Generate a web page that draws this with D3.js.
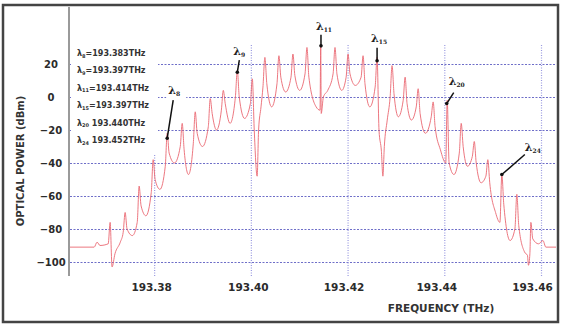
<!DOCTYPE html>
<html>
<head>
<meta charset="utf-8">
<script src="https://cdn.jsdelivr.net/npm/d3@7"></script>
<style>
  html, body { margin: 0; padding: 0; background: #fff; }
  svg { display: block; }
</style>
</head>
<body>
<div id="chart"></div>
<script>
//-- DATA --\\
var xTicks = [193.38, 193.40, 193.42, 193.44, 193.46];
var yTicks = [20, 0, -20, -40, -60, -80, -100];

// optical spectrum trace, [frequency THz, power dBm]
var trace = [
  [193.3626, -91], [193.3676, -91], [193.3682, -88], [193.3688, -90], [193.3705, -89],
  [193.3709, -76], [193.3713, -103], [193.3719, -95], [193.3730, -88], [193.3736, -82],
  [193.3740, -70], [193.3744, -80], [193.3755, -84], [193.3765, -76],
  [193.3769, -54], [193.3773, -66], [193.3783, -72], [193.3794, -58],
  [193.3798, -38], [193.3802, -50], [193.3812, -56], [193.3823, -42],
  [193.3827, -22], [193.3831, -34], [193.3842, -40], [193.3854, -30],
  [193.3858, -16], [193.3862, -32], [193.3871, -47], [193.3881, -28],
  [193.3885, -9], [193.3889, -22], [193.3900, -30], [193.3912, -18],
  [193.3916, -1], [193.3920, -10], [193.3929, -20], [193.3939, -8],
  [193.3943, 4], [193.3947, -4], [193.3957, -16], [193.3968, 0],
  [193.3972, 16], [193.3976, 0], [193.3987, -13], [193.3999, -4],
  [193.4003, 11], [193.4007, -20], [193.4013, -48], [193.4016, -20], [193.4021, -6], [193.4025, 6],
  [193.4029, 24], [193.4033, 8], [193.4043, -6], [193.4054, 8],
  [193.4058, 25], [193.4062, 12], [193.4072, 3], [193.4083, 12],
  [193.4087, 26], [193.4091, 13], [193.4101, 4], [193.4112, 14],
  [193.4116, 30], [193.4120, 12], [193.4135, -6], [193.4143, -8],
  [193.41445, 31.5], [193.41455, -10], [193.4150, 0], [193.4159, 4], [193.4170, 14],
  [193.4174, 30], [193.4178, 14], [193.4188, 4], [193.4197, 12],
  [193.4201, 26], [193.4205, 14], [193.4216, 7], [193.4228, 12],
  [193.4232, 25], [193.4236, 8], [193.4246, -6], [193.4257, 6],
  [193.4261, 24], [193.4265, -20], [193.4270, -33], [193.4273, -48], [193.4276, -30], [193.4282, -14], [193.4288, 0],
  [193.4292, 19], [193.4296, 2], [193.4305, -12], [193.4315, -2],
  [193.4319, 12], [193.4323, -4], [193.4332, -14], [193.4342, -6],
  [193.4346, 5], [193.4350, -10], [193.4361, -22], [193.4373, -12],
  [193.4377, -3], [193.4381, -18], [193.4392, -32], [193.4403, -40],
  [193.4406, -2], [193.4410, -40], [193.4420, -47], [193.4431, -34],
  [193.4435, -16], [193.4439, -30], [193.4448, -42], [193.4458, -36],
  [193.4462, -27], [193.4466, -40], [193.4476, -52], [193.4486, -48],
  [193.4490, -38], [193.4494, -52], [193.4506, -70], [193.4515, -76],
  [193.4519, -47], [193.4523, -65], [193.4536, -87], [193.4546, -80],
  [193.4550, -59], [193.4554, -78], [193.4566, -94], [193.4572, -96], [193.4574, -102], [193.4577, -95],
  [193.4579, -76], [193.4583, -86], [193.4595, -89], [193.4604, -87], [193.4610, -91], [193.4631, -91]
];

// legend lines (channel, text after it)
var legendSubs = ["8", "9", "11", "15", "20", "24"];
var legendVals = ["=193.383THz", "=193.397THz", "=193.414THz", "=193.397THz", " 193.440THz", " 193.452THz"];

// marked channels: frequency, level at the dot
var markSubs = ["8", "9", "11", "15", "20", "24"];
var markFreq = [193.3827, 193.3972, 193.4145, 193.4261, 193.4405, 193.4519];
var markDb = [-25, 15, 31, 22, -4, -47];

//-- LAYOUT --\\
var W = 561, H = 326;
var plotL = 70, plotR = 556, plotT = 45, plotB = 276;
var gridCol = "#6e6ec8";
var vgridCol = "#9a9ae0";
var traceCol = "#ea6872";
var textCol = "#2b2b2b";

// the printed tick labels sit a little left of their grid lines
var xLabelShift = [-3, -3, -4, -8, -9];

// label offsets (px) for each mark: line end and label centre relative to dot
var markLine = [[6, -38], [2, -12], [0, -11], [0, -13], [7, -11], [23, -20]];
var markLabel = [[7, -44], [2, -17], [3, -16], [2, -19], [10, -19], [31, -24]];

var svg = d3.select("#chart").append("svg")
    .attr("width", W).attr("height", H);

var x = d3.scaleLinear().domain([193.3626, 193.4631]).range([plotL, plotR]);
var y = d3.scaleLinear().domain([-108.5, 31.5]).range([plotB, plotT]);

// horizontal grid
var hGrid = svg.append("g")
    .attr("transform", "translate(" + plotL + ",0)")
    .call(d3.axisLeft(y).tickValues(yTicks).tickSize(-(plotR - 1 - plotL)).tickFormat(""));
hGrid.select(".domain").remove();
hGrid.selectAll("line")
    .attr("stroke", gridCol).attr("stroke-width", 1.2).attr("stroke-dasharray", "2,1.5");

// vertical grid
var vGrid = svg.append("g")
    .attr("transform", "translate(0," + plotB + ")")
    .call(d3.axisBottom(x).tickValues(xTicks).tickSize(-(plotB - plotT)).tickFormat(""));
vGrid.select(".domain").remove();
vGrid.selectAll("line")
    .attr("stroke", vgridCol).attr("stroke-width", 1.2).attr("stroke-dasharray", "1,1.5");

// trace
var line = d3.line()
    .x(function (d) { return x(d[0]); })
    .y(function (d) { return y(d[1]); })
    .curve(d3.curveMonotoneX);

svg.append("path")
    .datum(trace)
    .attr("d", line)
    .attr("fill", "none")
    .attr("stroke", traceCol)
    .attr("stroke-width", 1)
    .attr("stroke-opacity", 0.9);

// legend box over the grid
svg.append("rect")
    .attr("x", plotL + 1).attr("y", 44).attr("width", 87).attr("height", 110)
    .attr("fill", "#fff");

var leg = svg.append("g").attr("font-family", "DejaVu Sans, sans-serif")
    .attr("font-weight", "bold").attr("fill", "#333");
legendSubs.forEach(function (s, i) {
    var t = leg.append("text")
        .attr("x", 77).attr("y", 56 + i * 17.4)
        .attr("font-size", 8);
    t.append("tspan").text("λ");
    t.append("tspan").attr("font-size", 5).attr("dy", 1.5).text(s);
    t.append("tspan").attr("dy", -1.5).text(legendVals[i]);
});

// y axis line
svg.append("line")
    .attr("x1", 69).attr("x2", 69).attr("y1", 7).attr("y2", plotB)
    .attr("stroke", "#9a9a9a").attr("stroke-width", 2);

// tick labels
var yAx = svg.append("g")
    .attr("transform", "translate(" + 51 + ",0)")
    .call(d3.axisLeft(y).tickValues(yTicks).tickSize(0).tickPadding(0));
yAx.select(".domain").remove();
yAx.selectAll("text")
    .attr("text-anchor", "middle").attr("x", 0)
    .attr("font-family", "DejaVu Sans, sans-serif").attr("font-weight", "bold")
    .attr("font-size", 10).attr("fill", textCol);

var xAx = svg.append("g")
    .attr("transform", "translate(0," + plotB + ")")
    .call(d3.axisBottom(x).tickValues(xTicks).tickSize(0).tickPadding(8).tickFormat(d3.format(".2f")));
xAx.select(".domain").remove();
xAx.selectAll("text")
    .attr("dx", function (d, i) { return xLabelShift[i]; })
    .attr("font-family", "DejaVu Sans, sans-serif").attr("font-weight", "bold")
    .attr("font-size", 10.5).attr("fill", textCol);

// axis titles
svg.append("text")
    .attr("transform", "translate(24,161) rotate(-90)")
    .attr("text-anchor", "middle")
    .attr("font-family", "DejaVu Sans, sans-serif").attr("font-weight", "bold")
    .attr("font-size", 10).attr("fill", "#333")
    .text("OPTICAL POWER (dBm)");

svg.append("text")
    .attr("x", 441).attr("y", 312)
    .attr("text-anchor", "middle")
    .attr("font-family", "DejaVu Sans, sans-serif").attr("font-weight", "bold")
    .attr("font-size", 10.5).attr("fill", "#333")
    .text("FREQUENCY (THz)");

// channel marks
markSubs.forEach(function (s, i) {
    var px = x(markFreq[i]), py = y(markDb[i]);
    var lx = px + markLabel[i][0], ly = py + markLabel[i][1];
    if (s === "8") {
        svg.append("rect").attr("x", lx - 8).attr("y", ly - 10).attr("width", 20).attr("height", 15).attr("fill", "#fff");
    }
    svg.append("line")
        .attr("x1", px).attr("y1", py)
        .attr("x2", px + markLine[i][0]).attr("y2", py + markLine[i][1])
        .attr("stroke", "#111").attr("stroke-width", 1.5);
    svg.append("circle").attr("cx", px).attr("cy", py).attr("r", 1.8).attr("fill", "#111");
    var t = svg.append("text")
        .attr("x", lx).attr("y", ly)
        .attr("text-anchor", "middle")
        .attr("font-family", "DejaVu Serif, serif").attr("font-weight", "bold")
        .attr("font-size", 11).attr("fill", "#222");
    t.append("tspan").text("λ");
    t.append("tspan").attr("font-size", 6).attr("dy", 2).text(s);
});

// frame
svg.append("rect")
    .attr("x", 3).attr("y", 5).attr("width", 555).attr("height", 317)
    .attr("fill", "none").attr("stroke", "#444").attr("stroke-width", 2.5);
</script>
</body>
</html>
